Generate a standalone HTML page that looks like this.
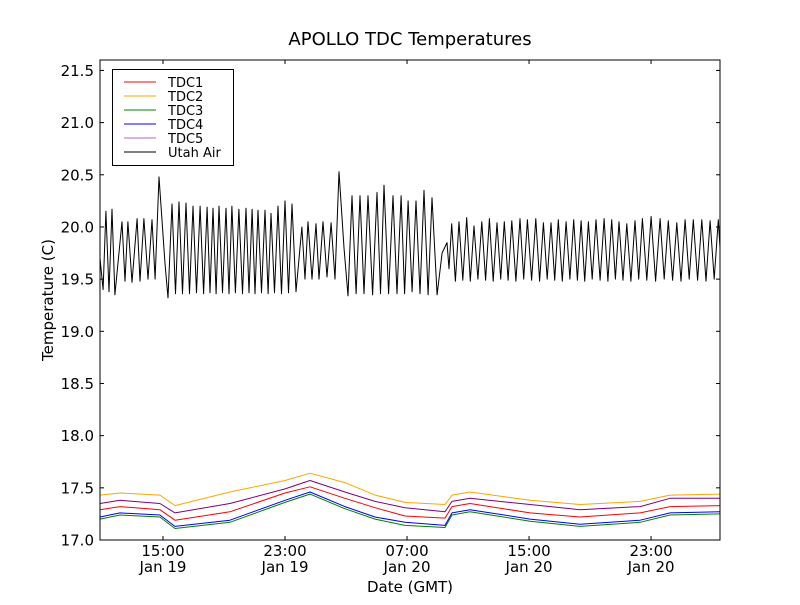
<!DOCTYPE html>
<html><head><meta charset="utf-8"><style>
body{margin:0;background:#fff;}
svg text{font-family:"DejaVu Sans","Liberation Sans",sans-serif;}
</style></head><body>
<svg id="chart" width="800" height="600" xmlns="http://www.w3.org/2000/svg">
<rect width="800" height="600" fill="#fff"/>
<text x="410" y="45" font-size="18" text-anchor="middle">APOLLO TDC Temperatures</text>
<text x="410" y="592" font-size="15" text-anchor="middle">Date (GMT)</text>
<text x="0" y="0" font-size="15" text-anchor="middle" transform="translate(53,300) rotate(-90)">Temperature (C)</text>
<g id="marks"></g>
<g id="axes"></g>
<g>
<rect x="112.5" y="69.5" width="121" height="96" fill="#fff" stroke="#000" stroke-width="1"/>
<g id="legend-items"></g>
</g>
</svg>
<script>
const tdcHours=[10.87,12.18,14.8,15.79,19.39,23.0,24.64,26.93,28.9,30.87,33.49,33.95,35.13,39.07,42.34,46.28,48.25,51.52];
const tdc1=[17.29,17.32,17.29,17.19,17.27,17.45,17.51,17.40,17.31,17.23,17.21,17.32,17.35,17.26,17.22,17.26,17.32,17.33];
const tdc2=[17.43,17.45,17.43,17.33,17.46,17.57,17.64,17.55,17.43,17.36,17.34,17.43,17.46,17.38,17.34,17.37,17.43,17.44];
const tdc3=[17.20,17.24,17.22,17.11,17.17,17.36,17.44,17.30,17.20,17.14,17.12,17.24,17.27,17.18,17.13,17.17,17.24,17.25];
const tdc4=[17.22,17.26,17.24,17.13,17.19,17.38,17.46,17.32,17.22,17.17,17.14,17.26,17.29,17.20,17.15,17.19,17.26,17.27];
const tdc5=[17.35,17.38,17.35,17.26,17.35,17.49,17.57,17.46,17.37,17.31,17.27,17.37,17.40,17.34,17.29,17.32,17.40,17.40];
const airHours=[10.87,11.07,11.26,11.46,11.66,11.85,12.31,12.51,12.70,12.97,13.30,13.49,13.75,14.02,14.28,14.48,14.74,15.13,15.33,
15.59,15.82,16.05,16.28,16.51,16.74,16.97,17.2,17.43,17.66,17.89,18.08,18.28,18.48,18.67,18.9,19.13,19.33,19.52,19.75,19.98,20.21,20.44,20.64,20.84,21.03,21.23,21.46,21.69,21.89,22.08,22.31,22.54,22.77,23.0,23.23,23.46,23.72,
24.11,24.31,24.51,24.77,25.03,25.23,25.49,25.75,26.02,26.28,26.54,26.87,27.13,
27.39,27.66,27.92,28.18,28.44,28.74,29.03,29.26,29.49,29.79,30.08,30.34,30.61,30.84,31.07,31.33,31.59,31.85,32.11,32.38,32.64,32.97,33.3,33.62,33.75,
33.93,34.17,34.41,34.66,34.91,35.15,35.39,35.65,35.9,36.15,36.4,36.65,36.9,37.14,37.38,37.63,37.87,38.14,38.41,38.65,38.89,39.17,39.44,39.69,39.94,40.19,40.44,40.68,40.92,41.18,41.43,41.68,41.93,42.17,42.41,42.65,42.89,43.14,43.39,43.66,43.92,44.17,44.42,44.66,44.9,45.16,45.41,45.68,45.95,46.19,46.43,46.72,47.0,47.3,47.59,47.86,48.13,48.41,48.69,48.96,49.23,49.5,49.77,50.05,50.33,50.6,50.87,51.14,51.41,51.52];
const airTemps=[19.7,19.4,20.15,19.38,20.17,19.35,20.05,19.48,20.05,19.47,20.08,19.48,20.08,19.5,20.07,19.5,20.48,19.65,19.32,
20.22,19.36,20.24,19.36,20.23,19.36,20.2,19.37,20.2,19.36,20.19,19.37,20.18,19.36,20.2,19.37,20.18,19.36,20.2,19.37,20.17,19.36,20.18,19.37,20.17,19.36,20.16,19.37,20.16,19.36,20.13,19.37,20.2,19.36,20.25,19.37,20.22,19.38,
20.0,19.5,20.05,19.5,20.03,19.5,20.05,19.52,20.04,19.5,20.53,19.8,19.34,
20.3,19.36,20.3,19.36,20.3,19.35,20.33,19.36,20.4,19.36,20.3,19.36,20.3,19.36,20.25,19.38,20.25,19.36,20.35,19.35,20.28,19.35,19.75,19.85,19.6,
20.03,19.48,20.05,19.49,20.09,19.48,20.01,19.5,20.05,19.49,20.08,19.48,20.04,19.5,20.05,19.49,20.06,19.48,20.08,19.5,20.07,19.49,20.08,19.48,20.04,19.5,20.04,19.49,20.07,19.48,20.05,19.5,20.07,19.49,20.06,19.48,20.05,19.5,20.07,19.49,20.08,19.48,20.07,19.5,20.05,19.49,20.03,19.48,20.06,19.5,20.08,19.49,20.1,19.48,20.08,19.5,20.06,19.49,20.04,19.48,20.07,19.5,20.07,19.49,20.07,19.48,20.06,19.5,20.07,19.8];
const yTicks=[17.0,17.5,18.0,18.5,19.0,19.5,20.0,20.5,21.0,21.5];
const xTickHours=[15,23,31,39,47];
const xTickTimes=["15:00","23:00","07:00","15:00","23:00"];
const xTickDates=["Jan 19","Jan 19","Jan 20","Jan 20","Jan 20"];
const seriesNames=["TDC1","TDC2","TDC3","TDC4","TDC5","Utah Air"];
const L=100,R=720,T=60,B=540,X0=10.87,X1=51.52,Y0=17.0,Y1=21.6;
const sx=h=>L+(h-X0)/(X1-X0)*(R-L);
const sy=v=>B-(v-Y0)/(Y1-Y0)*(B-T);
const NS="http://www.w3.org/2000/svg";
function mk(tag,attrs,parent){const e=document.createElementNS(NS,tag);for(const k in attrs)e.setAttribute(k,attrs[k]);parent.appendChild(e);return e;}
const marks=document.getElementById('marks');
function line(xs,ys,color,name){
  const d=xs.map((h,i)=>(i?'L':'M')+sx(h).toFixed(1)+','+sy(ys[i]).toFixed(1)).join('');
  const p=mk('path',{d:d,fill:'none',stroke:color,'stroke-width':1,'stroke-linejoin':'round'},marks);
  
  
}
line(tdcHours,tdc2,'#ffa500','tdc2-line');
line(tdcHours,tdc5,'#800080','tdc5-line');
line(tdcHours,tdc1,'#ff0000','tdc1-line');
line(tdcHours,tdc4,'#0000ff','tdc4-line');
line(tdcHours,tdc3,'#008000','tdc3-line');
line(airHours,airTemps,'#000000','utah-air-line');
const axes=document.getElementById('axes');
const frame=mk('rect',{x:L,y:T,width:R-L,height:B-T,fill:'none',stroke:'#000','stroke-width':1},axes);


yTicks.forEach(v=>{
  const y=sy(v);
  mk('line',{x1:L,x2:L+4,y1:y,y2:y,stroke:'#000'},axes);
  mk('line',{x1:R,x2:R-4,y1:y,y2:y,stroke:'#000'},axes);
  const t=mk('text',{x:L-6,y:y+5.5,'font-size':15,'text-anchor':'end'},axes);
  t.textContent=v.toFixed(1);
  
  
});
xTickHours.forEach((h,i)=>{
  const x=sx(h);
  mk('line',{x1:x,x2:x,y1:B,y2:B-4,stroke:'#000'},axes);
  mk('line',{x1:x,x2:x,y1:T,y2:T+4,stroke:'#000'},axes);
  const t=mk('text',{x:x,y:B+16,'font-size':15,'text-anchor':'middle'},axes);
  t.textContent=xTickTimes[i];
  
  
  const t2=mk('text',{x:x,y:B+32,'font-size':15,'text-anchor':'middle'},axes);
  t2.textContent=xTickDates[i];
  
  
});
const legColors=['#ff0000','#ffa500','#008000','#0000ff','#bf60bf','#000000'];
const li=document.getElementById('legend-items');
seriesNames.forEach((n,i)=>{
  const y=82+i*14;
  const g=mk('g',{},li);
  
  
  mk('line',{x1:124,x2:156,y1:y,y2:y,stroke:legColors[i],'stroke-width':1},g);
  const t=mk('text',{x:168,y:y+5,'font-size':13},g);
  t.textContent=n;
});
</script>
</body></html>
